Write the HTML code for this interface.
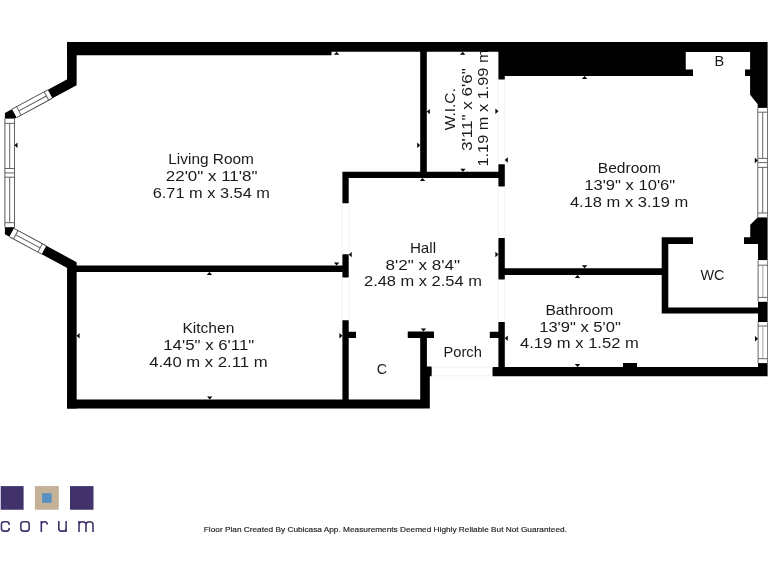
<!DOCTYPE html>
<html><head><meta charset="utf-8"><title>Floor plan</title>
<style>
html,body{margin:0;padding:0;background:#fff;}
body{width:768px;height:576px;overflow:hidden;}
svg{display:block;will-change:transform;}
text{font-family:"Liberation Sans", sans-serif;font-size:15.0px;fill:#1a1a1a;}
</style></head>
<body>
<svg width="768" height="576" viewBox="0 0 768 576">
<rect x="0" y="0" width="768" height="576" fill="#fff"/>
<text x="211.10" y="164.00" text-anchor="middle" textLength="85.60" lengthAdjust="spacingAndGlyphs">Living Room</text><text x="211.60" y="181.10" text-anchor="middle" textLength="91.60" lengthAdjust="spacingAndGlyphs">22'0&quot; x 11'8&quot;</text><text x="211.30" y="197.70" text-anchor="middle" textLength="117.20" lengthAdjust="spacingAndGlyphs">6.71 m x 3.54 m</text><text x="208.38" y="333.00" text-anchor="middle" textLength="51.95" lengthAdjust="spacingAndGlyphs">Kitchen</text><text x="208.75" y="350.20" text-anchor="middle" textLength="91.10" lengthAdjust="spacingAndGlyphs">14'5&quot; x 6'11&quot;</text><text x="208.40" y="366.80" text-anchor="middle" textLength="118.40" lengthAdjust="spacingAndGlyphs">4.40 m x 2.11 m</text><text x="423.00" y="252.90" text-anchor="middle" textLength="26.20" lengthAdjust="spacingAndGlyphs">Hall</text><text x="422.75" y="269.60" text-anchor="middle" textLength="74.50" lengthAdjust="spacingAndGlyphs">8'2&quot; x 8'4&quot;</text><text x="422.93" y="285.70" text-anchor="middle" textLength="117.85" lengthAdjust="spacingAndGlyphs">2.48 m x 2.54 m</text><text x="629.38" y="173.00" text-anchor="middle" textLength="63.15" lengthAdjust="spacingAndGlyphs">Bedroom</text><text x="629.70" y="189.80" text-anchor="middle" textLength="91.00" lengthAdjust="spacingAndGlyphs">13'9&quot; x 10'6&quot;</text><text x="629.10" y="206.75" text-anchor="middle" textLength="118.40" lengthAdjust="spacingAndGlyphs">4.18 m x 3.19 m</text><text x="579.40" y="315.10" text-anchor="middle" textLength="68.00" lengthAdjust="spacingAndGlyphs">Bathroom</text><text x="580.00" y="332.10" text-anchor="middle" textLength="81.60" lengthAdjust="spacingAndGlyphs">13'9&quot; x 5'0&quot;</text><text x="579.40" y="348.30" text-anchor="middle" textLength="118.80" lengthAdjust="spacingAndGlyphs">4.19 m x 1.52 m</text><text x="712.50" y="280.30" text-anchor="middle" textLength="24.00" lengthAdjust="spacingAndGlyphs">WC</text><text x="462.65" y="357.00" text-anchor="middle" textLength="38.30" lengthAdjust="spacingAndGlyphs">Porch</text><text x="381.82" y="373.70" text-anchor="middle" textLength="10.35" lengthAdjust="spacingAndGlyphs">C</text><text x="719.25" y="66.40" text-anchor="middle" textLength="9.70" lengthAdjust="spacingAndGlyphs">B</text><text transform="translate(455.00,109.20) rotate(-90)" x="0" y="0" text-anchor="middle" textLength="42.00" lengthAdjust="spacingAndGlyphs">W.I.C.</text><text transform="translate(471.70,109.58) rotate(-90)" x="0" y="0" text-anchor="middle" textLength="82.85" lengthAdjust="spacingAndGlyphs">3'11&quot; x 6'6&quot;</text><text transform="translate(487.50,108.00) rotate(-90)" x="0" y="0" text-anchor="middle" textLength="117.20" lengthAdjust="spacingAndGlyphs">1.19 m x 1.99 m</text><path fill="#000" fill-rule="nonzero" d="M67.00 42.00 L331.50 42.00 L331.50 55.25 L67.00 55.25ZM331.50 42.00 L504.80 42.00 L504.80 51.75 L331.50 51.75ZM498.40 42.00 L504.80 42.00 L504.80 79.60 L498.40 79.60ZM504.80 42.00 L685.75 42.00 L685.75 75.90 L504.80 75.90ZM685.75 42.00 L750.10 42.00 L750.10 52.00 L685.75 52.00ZM685.75 69.50 L693.00 69.50 L693.00 75.90 L685.75 75.90ZM745.00 69.50 L750.10 69.50 L750.10 75.90 L745.00 75.90ZM750.10 42.00 L767.60 42.00 L767.60 107.90 L757.70 107.90 L757.70 104.20 L750.10 94.70ZM757.80 217.25 L767.60 217.25 L767.60 260.30 L758.00 260.30 L758.00 244.00 L744.00 244.00 L744.00 237.30 L750.25 237.30 L750.25 224.75ZM758.00 301.60 L767.60 301.60 L767.60 322.20 L758.00 322.20ZM758.00 363.10 L767.60 363.10 L767.60 376.25 L758.00 376.25ZM492.50 366.90 L767.60 366.90 L767.60 376.25 L492.50 376.25ZM661.70 237.30 L693.00 237.30 L693.00 244.00 L661.70 244.00ZM661.70 237.30 L668.30 237.30 L668.30 313.60 L661.70 313.60ZM661.70 307.60 L758.50 307.60 L758.50 313.60 L661.70 313.60ZM504.00 268.25 L662.00 268.25 L662.00 274.90 L504.00 274.90ZM498.40 164.30 L504.80 164.30 L504.80 186.50 L498.40 186.50ZM498.40 238.10 L504.80 238.10 L504.80 279.50 L498.40 279.50ZM498.40 322.10 L504.80 322.10 L504.80 376.25 L498.40 376.25ZM489.80 331.80 L498.60 331.80 L498.60 337.90 L489.80 337.90ZM342.40 171.70 L504.80 171.70 L504.80 178.00 L342.40 178.00ZM420.20 42.00 L426.80 42.00 L426.80 178.00 L420.20 178.00ZM342.40 171.70 L348.70 171.70 L348.70 203.25 L342.40 203.25ZM342.40 254.30 L348.70 254.30 L348.70 277.40 L342.40 277.40ZM342.40 320.20 L348.70 320.20 L348.70 408.60 L342.40 408.60ZM70.00 265.50 L348.70 265.50 L348.70 271.90 L70.00 271.90ZM348.50 331.70 L356.00 331.70 L356.00 338.10 L348.50 338.10ZM407.75 331.60 L434.00 331.60 L434.00 338.10 L407.75 338.10ZM420.20 331.60 L426.90 331.60 L426.90 366.80 L420.20 366.80ZM420.20 366.60 L431.70 366.60 L431.70 376.30 L420.20 376.30ZM420.20 376.00 L429.80 376.00 L429.80 408.60 L420.20 408.60ZM67.00 399.40 L429.80 399.40 L429.80 408.60 L67.00 408.60ZM623.00 363.00 L637.00 363.00 L637.00 367.50 L623.00 367.50Z"/><polyline points="71.85,42.0 71.85,82.3 9.7,115.8 9.7,231.5 71.85,265.0 71.85,408.6" fill="none" stroke="#000" stroke-width="9.6" stroke-linejoin="miter" stroke-miterlimit="10"/><g transform="translate(9.70,0) rotate(90)"><rect x="118.60" y="-4.80" width="108.60" height="9.60" fill="#fff"/><line x1="118.60" y1="-4.80" x2="227.20" y2="-4.80" stroke="#555" stroke-width="0.9"/><line x1="118.60" y1="4.80" x2="227.20" y2="4.80" stroke="#555" stroke-width="0.9"/><line x1="123.40" y1="-4.80" x2="123.40" y2="4.80" stroke="#555" stroke-width="0.9"/><line x1="222.70" y1="-4.80" x2="222.70" y2="4.80" stroke="#555" stroke-width="0.9"/><line x1="168.50" y1="-4.80" x2="168.50" y2="4.80" stroke="#555" stroke-width="0.9"/><line x1="172.90" y1="-4.80" x2="172.90" y2="4.80" stroke="#555" stroke-width="0.9"/><line x1="177.20" y1="-4.80" x2="177.20" y2="4.80" stroke="#555" stroke-width="0.9"/><line x1="123.40" y1="0" x2="168.50" y2="0" stroke="#555" stroke-width="0.9"/><line x1="177.20" y1="0" x2="222.70" y2="0" stroke="#555" stroke-width="0.9"/></g><g transform="translate(762.70,0) rotate(90)"><rect x="107.90" y="-4.90" width="109.35" height="9.80" fill="#fff"/><line x1="107.90" y1="-4.90" x2="217.25" y2="-4.90" stroke="#555" stroke-width="0.9"/><line x1="107.90" y1="4.90" x2="217.25" y2="4.90" stroke="#555" stroke-width="0.9"/><line x1="112.20" y1="-4.90" x2="112.20" y2="4.90" stroke="#555" stroke-width="0.9"/><line x1="213.00" y1="-4.90" x2="213.00" y2="4.90" stroke="#555" stroke-width="0.9"/><line x1="158.40" y1="-4.90" x2="158.40" y2="4.90" stroke="#555" stroke-width="0.9"/><line x1="162.60" y1="-4.90" x2="162.60" y2="4.90" stroke="#555" stroke-width="0.9"/><line x1="167.40" y1="-4.90" x2="167.40" y2="4.90" stroke="#555" stroke-width="0.9"/><line x1="112.20" y1="0" x2="158.40" y2="0" stroke="#555" stroke-width="0.9"/><line x1="167.40" y1="0" x2="213.00" y2="0" stroke="#555" stroke-width="0.9"/></g><g transform="translate(762.90,0) rotate(90)"><rect x="260.30" y="-4.80" width="41.30" height="9.60" fill="#fff"/><line x1="260.30" y1="-4.80" x2="301.60" y2="-4.80" stroke="#555" stroke-width="0.9"/><line x1="260.30" y1="4.80" x2="301.60" y2="4.80" stroke="#555" stroke-width="0.9"/><line x1="265.20" y1="-4.80" x2="265.20" y2="4.80" stroke="#555" stroke-width="0.9"/><line x1="297.40" y1="-4.80" x2="297.40" y2="4.80" stroke="#555" stroke-width="0.9"/><line x1="265.20" y1="0" x2="297.40" y2="0" stroke="#999" stroke-width="0.9"/></g><g transform="translate(762.90,0) rotate(90)"><rect x="322.20" y="-4.80" width="40.90" height="9.60" fill="#fff"/><line x1="322.20" y1="-4.80" x2="363.10" y2="-4.80" stroke="#555" stroke-width="0.9"/><line x1="322.20" y1="4.80" x2="363.10" y2="4.80" stroke="#555" stroke-width="0.9"/><line x1="326.00" y1="-4.80" x2="326.00" y2="4.80" stroke="#555" stroke-width="0.9"/><line x1="358.70" y1="-4.80" x2="358.70" y2="4.80" stroke="#555" stroke-width="0.9"/><line x1="326.00" y1="0" x2="358.70" y2="0" stroke="#999" stroke-width="0.9"/></g><g transform="translate(9.70,115.80) rotate(-28.325)"><rect x="5.20" y="-4.80" width="40.65" height="9.60" fill="#fff"/><line x1="5.20" y1="-4.80" x2="45.85" y2="-4.80" stroke="#555" stroke-width="0.9"/><line x1="5.20" y1="4.80" x2="45.85" y2="4.80" stroke="#555" stroke-width="0.9"/><line x1="10.40" y1="-4.80" x2="10.40" y2="4.80" stroke="#555" stroke-width="0.9"/><line x1="41.70" y1="-4.80" x2="41.70" y2="4.80" stroke="#555" stroke-width="0.9"/><line x1="10.40" y1="0" x2="41.70" y2="0" stroke="#555" stroke-width="0.9"/></g><g transform="translate(9.70,231.50) rotate(28.325)"><rect x="2.20" y="-4.80" width="36.70" height="9.60" fill="#fff"/><line x1="2.20" y1="-4.80" x2="38.90" y2="-4.80" stroke="#555" stroke-width="0.9"/><line x1="2.20" y1="4.80" x2="38.90" y2="4.80" stroke="#555" stroke-width="0.9"/><line x1="6.90" y1="-4.80" x2="6.90" y2="4.80" stroke="#555" stroke-width="0.9"/><line x1="34.60" y1="-4.80" x2="34.60" y2="4.80" stroke="#555" stroke-width="0.9"/><line x1="6.90" y1="0" x2="34.60" y2="0" stroke="#555" stroke-width="0.9"/></g><line x1="342.20" y1="203.25" x2="342.20" y2="254.30" stroke="#f2f2f2" stroke-width="1"/><line x1="342.20" y1="277.40" x2="342.20" y2="320.20" stroke="#f2f2f2" stroke-width="1"/><line x1="348.90" y1="203.25" x2="348.90" y2="254.30" stroke="#f2f2f2" stroke-width="1"/><line x1="348.90" y1="277.40" x2="348.90" y2="320.20" stroke="#f2f2f2" stroke-width="1"/><line x1="498.20" y1="79.60" x2="498.20" y2="164.30" stroke="#f2f2f2" stroke-width="1"/><line x1="498.20" y1="186.50" x2="498.20" y2="238.10" stroke="#f2f2f2" stroke-width="1"/><line x1="498.20" y1="279.50" x2="498.20" y2="322.10" stroke="#f2f2f2" stroke-width="1"/><line x1="504.90" y1="79.60" x2="504.90" y2="164.30" stroke="#f2f2f2" stroke-width="1"/><line x1="504.90" y1="186.50" x2="504.90" y2="238.10" stroke="#f2f2f2" stroke-width="1"/><line x1="504.90" y1="279.50" x2="504.90" y2="322.10" stroke="#f2f2f2" stroke-width="1"/><line x1="431.70" y1="367.10" x2="492.50" y2="367.10" stroke="#f2f2f2" stroke-width="1"/><line x1="431.70" y1="375.80" x2="492.50" y2="375.80" stroke="#f2f2f2" stroke-width="1"/><path fill="#000" fill-rule="nonzero" d="M339.30 54.75 L333.90 54.75 L336.60 51.75ZM465.40 54.75 L460.00 54.75 L462.70 51.75ZM587.30 78.90 L581.90 78.90 L584.60 75.90ZM425.20 181.00 L419.80 181.00 L422.50 178.00ZM212.10 274.90 L206.70 274.90 L209.40 271.90ZM580.20 277.90 L574.80 277.90 L577.50 274.90ZM463.00 171.70 L460.30 168.70 L465.70 168.70ZM336.60 265.50 L333.90 262.50 L339.30 262.50ZM584.60 268.25 L581.90 265.25 L587.30 265.25ZM423.50 331.60 L420.80 328.60 L426.20 328.60ZM209.75 399.40 L207.05 396.40 L212.45 396.40ZM577.50 366.90 L574.80 363.90 L580.20 363.90ZM14.50 145.20 L17.50 142.50 L17.50 147.90ZM426.80 111.60 L429.80 108.90 L429.80 114.30ZM504.80 160.00 L507.80 157.30 L507.80 162.70ZM348.70 254.60 L351.70 251.90 L351.70 257.30ZM76.60 335.75 L79.60 333.05 L79.60 338.45ZM504.80 338.30 L507.80 335.60 L507.80 341.00ZM417.20 147.90 L417.20 142.50 L420.20 145.20ZM495.40 113.90 L495.40 108.50 L498.40 111.20ZM754.80 163.20 L754.80 157.80 L757.80 160.50ZM495.40 257.20 L495.40 251.80 L498.40 254.50ZM339.40 338.50 L339.40 333.10 L342.40 335.80ZM755.00 341.40 L755.00 336.00 L758.00 338.70Z"/><rect x="0.70" y="486.10" width="22.90" height="23.65" fill="#42326c"/><rect x="34.90" y="486.10" width="23.90" height="23.65" fill="#c3b198"/><rect x="42.10" y="493.20" width="9.50" height="9.55" fill="#5790c0"/><rect x="70.00" y="486.10" width="23.50" height="23.65" fill="#42326c"/><path d="M9.15 525.1V524.3Q9.15 521.75 6.6 521.75H4Q1.45 521.75 1.45 524.3V528.6Q1.45 531.15 4 531.15H6.6Q9.15 531.15 9.15 528.6V527.9M23.4 521.75H26.6Q29.15 521.75 29.15 524.3V528.6Q29.15 531.15 26.6 531.15H23.4Q20.85 531.15 20.85 528.6V524.3Q20.85 521.75 23.4 521.75ZM41.3 532V520.9M41.3 524.6Q41.3 521.75 44.3 521.75H44.7Q47.25 521.75 47.25 524.6M58.8 520.9V528.4Q58.8 531.15 61.6 531.15H63.3Q66.1 531.15 66.1 528.4M66.1 520.9V532M79 532V520.9M79 524.6Q79 521.75 82.5 521.75Q86 521.75 86 524.6V532M86 524.6Q86 521.75 89.5 521.75Q93 521.75 93 524.6V532" fill="none" stroke="#42326c" stroke-width="1.6"/><text x="385.35" y="532.0" text-anchor="middle" style="font-size:7.2px;fill:#222;stroke:#222;stroke-width:0.15px" textLength="363.10" lengthAdjust="spacingAndGlyphs">Floor Plan Created By Cubicasa App. Measurements Deemed Highly Reliable But Not Guaranteed.</text>
</svg>
</body></html>
